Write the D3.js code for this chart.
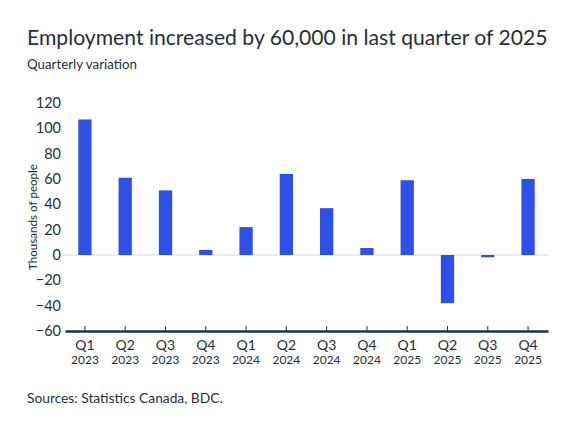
<!DOCTYPE html>
<html>
<head>
<meta charset="utf-8">
<script src="https://cdn.jsdelivr.net/npm/d3@7"></script>
<style>
  body { margin: 0; background: #fff; }
  text { font-family: Lato, "Noto Sans", sans-serif; }
</style>
</head>
<body>
<svg></svg>
<script>
const WIDTH = 575;
const HEIGHT = 432;

const quarters = ["Q1", "Q2", "Q3", "Q4", "Q1", "Q2", "Q3", "Q4", "Q1", "Q2", "Q3", "Q4"];
const years = ["2023", "2023", "2023", "2023", "2024", "2024", "2024", "2024", "2025", "2025", "2025", "2025"];
const values = [107, 61, 51, 4, 22, 64, 37, 5.5, 59, -38, -1.8, 60];
const yTicks = [-60, -40, -20, 0, 20, 40, 60, 80, 100, 120];

const MARGIN = { left: 65, right: 27, top: 103, bottom: 101 };
const INK = "#262e38";

let svg = d3.select("svg")
    .attr("width", WIDTH)
    .attr("height", HEIGHT);

let keys = values.map((d, i) => i);

let x = d3.scaleBand()
    .domain(keys)
    .range([MARGIN.left, WIDTH - MARGIN.right])
    .paddingInner(0.67)
    .paddingOuter(0.33);

let y = d3.scaleLinear()
    .domain([-60, 120])
    .range([HEIGHT - MARGIN.bottom, MARGIN.top]);

// fit a text to a given width by changing its font size
function fitWidth(sel, target) {
    let size = parseFloat(sel.style("font-size"));
    let w = sel.node().getComputedTextLength();
    if (w > 0) sel.style("font-size", (size * target / w) + "px");
}

// titles
let title = svg.append("text")
    .attr("x", 27)
    .attr("y", 45)
    .style("font-size", "21px")
    .style("fill", INK)
    .text("Employment increased by 60,000 in last quarter of 2025");
fitWidth(title, 521);

let sub = svg.append("text")
    .attr("x", 27)
    .attr("y", 69)
    .style("font-size", "13px")
    .style("fill", INK)
    .text("Quarterly variation");
fitWidth(sub, 110);

// y axis labels
let yAxis = svg.append("g")
    .attr("transform", `translate(${MARGIN.left - 4},0)`)
    .call(d3.axisLeft(y).tickValues(yTicks).tickSize(0).tickPadding(0));
yAxis.select(".domain").remove();
yAxis.selectAll("text")
    .style("font-family", "Lato, sans-serif")
    .style("font-size", "14.5px")
    .style("fill", INK);

let ylab = svg.append("text")
    .attr("transform", `translate(37,${y(30)}) rotate(-90)`)
    .attr("text-anchor", "middle")
    .style("font-size", "12.5px")
    .style("fill", INK)
    .text("Thousands of people");
fitWidth(ylab, 106);

// zero line
svg.append("line")
    .attr("x1", MARGIN.left - 2)
    .attr("x2", WIDTH - MARGIN.right)
    .attr("y1", y(0))
    .attr("y2", y(0))
    .style("stroke", "#d6d8dc")
    .style("stroke-width", 1);

// bars
svg.append("g")
    .selectAll("rect")
    .data(values)
    .join("rect")
    .attr("x", (d, i) => x(i))
    .attr("width", x.bandwidth())
    .attr("y", d => y(Math.max(0, d)))
    .attr("height", d => Math.abs(y(d) - y(0)))
    .style("fill", "#2f50e8");

// x axis
let xAxis = svg.append("g")
    .attr("transform", `translate(0,${y(-60)})`)
    .call(d3.axisBottom(x).tickSize(-5).tickSizeOuter(0).tickFormat(() => ""));
xAxis.select(".domain")
    .style("stroke", "#1f3047")
    .style("stroke-width", 2.5);
xAxis.selectAll(".tick line")
    .style("stroke", "#1f3047");

let labels = svg.append("g")
    .selectAll("g")
    .data(keys)
    .join("g")
    .attr("transform", i => `translate(${x(i) + x.bandwidth() / 2},0)`);

labels.append("text")
    .attr("y", y(-60) + 18.5)
    .attr("text-anchor", "middle")
    .style("font-size", "14px")
    .style("fill", INK)
    .text(i => quarters[i]);

labels.append("text")
    .attr("y", y(-60) + 32.5)
    .attr("text-anchor", "middle")
    .style("font-size", "12px")
    .style("fill", INK)
    .text(i => years[i]);

let src = svg.append("text")
    .attr("x", 27)
    .attr("y", 403)
    .style("font-size", "14px")
    .style("fill", INK)
    .text("Sources: Statistics Canada, BDC.");
fitWidth(src, 196);
</script>
</body>
</html>
